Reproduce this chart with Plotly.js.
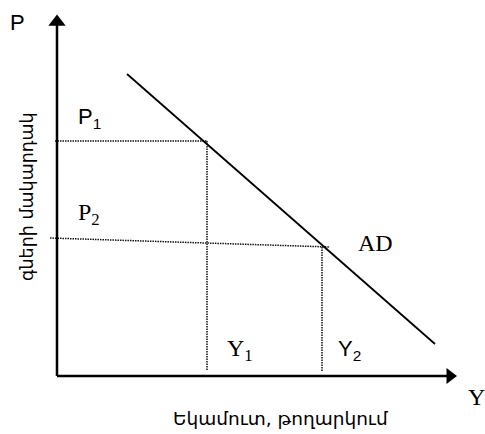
<!DOCTYPE html>
<html>
<head>
<meta charset="utf-8">
<script src="https://cdn.plot.ly/plotly-3.0.1.min.js"></script>
<style>html,body{margin:0;padding:0;background:#fff;}#chart{width:485px;height:434px;}</style>
</head>
<body>
<div id="chart"></div>
<script>
// Axis extents (quantity axis end, price axis end)
const axisEndQ = 403;
const axisEndP = 364;
// Aggregate demand curve end points
const adQuantity = [70, 378];
const adPrice = [302, 32];
// Equilibrium levels: P1/Y1 and P2/Y2
const priceLevels = [235, 129];
const outputLevels = [150, 265];
// left start of the dotted price guides (as drawn) and their extents
const guideStartQ = [-2, -7];
const guideStartP = [235, 138];
const guideEndQ = [150, 273];
const guideBottomP = [6, 4];

const SANS = '"Liberation Sans", Arial, sans-serif';
const SERIF = '"Liberation Serif", "Times New Roman", serif';
const ARM = '"DejaVu Sans", sans-serif';

const dotLine = {color: '#111', width: 1.5, dash: '1.5px,1px'};

const traces = [];
// Price guides (horizontal) and output guides (vertical)
for (let i = 0; i < 2; i++) {
  traces.push({x: [guideStartQ[i], guideEndQ[i]], y: [guideStartP[i], priceLevels[i]],
    mode: 'lines', line: dotLine, hoverinfo: 'skip', showlegend: false});
  traces.push({x: [outputLevels[i], outputLevels[i]], y: [priceLevels[i], guideBottomP[i]],
    mode: 'lines', line: dotLine, hoverinfo: 'skip', showlegend: false});
}
// AD line
traces.push({x: adQuantity, y: adPrice, mode: 'lines', line: {color: '#000', width: 1.8},
  hoverinfo: 'skip', showlegend: false});
// Axes
traces.push({x: [0, 0], y: [0, axisEndP - 10], mode: 'lines', line: {color: '#000', width: 2.5},
  hoverinfo: 'skip', showlegend: false, cliponaxis: false});
traces.push({x: [0, axisEndQ - 10], y: [0, 0], mode: 'lines', line: {color: '#000', width: 2.5},
  hoverinfo: 'skip', showlegend: false, cliponaxis: false});
// Arrow heads
traces.push({x: [0], y: [axisEndP - 10], mode: 'markers', cliponaxis: false,
  marker: {symbol: 'triangle-up', size: 15, color: '#000', line: {width: 0}},
  hoverinfo: 'skip', showlegend: false});
traces.push({x: [axisEndQ - 10], y: [0], mode: 'markers', cliponaxis: false,
  marker: {symbol: 'triangle-right', size: 14, color: '#000', line: {width: 0}},
  hoverinfo: 'skip', showlegend: false});

function ann(text, x, y, family, size, extra) {
  return Object.assign({text: text, x: x, y: y, xref: 'x', yref: 'y', showarrow: false,
    font: {family: family, size: size, color: '#000'}, xanchor: 'left', yanchor: 'middle'}, extra || {});
}

const annotations = [
  ann('P', -49, 354, SANS, 22),
  ann('P<sub>1</sub>', 19, 258, SANS, 22),
  ann('P<sub>2</sub>', 19, 162, SERIF, 24),
  ann('AD', 299, 133, SERIF, 24),
  ann('Y<sub>1</sub>', 168, 26, SERIF, 24),
  ann('Y<sub>2</sub>', 279, 26, SANS, 22),
  ann('Y', 409, -21, SERIF, 24),
  ann('Եկամուտ, թողարկում', 223, -42, ARM, 18.5, {xanchor: 'center'}),
  ann('գների մակարդակ', -30, 179, ARM, 17.5, {xanchor: 'center', textangle: -90})
];

const layout = {
  width: 485, height: 434,
  margin: {l: 0, r: 0, t: 0, b: 0, pad: 0},
  paper_bgcolor: '#fff', plot_bgcolor: '#fff',
  xaxis: {range: [-57, 428], visible: false, fixedrange: true},
  yaxis: {range: [-58, 376], visible: false, fixedrange: true},
  annotations: annotations,
  showlegend: false
};

Plotly.newPlot('chart', traces, layout, {staticPlot: true, displayModeBar: false});
</script>
</body>
</html>
